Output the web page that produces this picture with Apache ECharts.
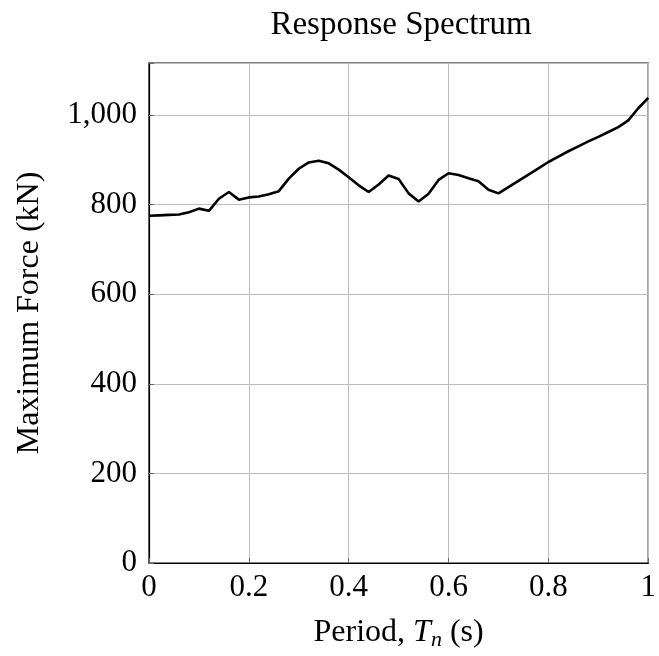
<!DOCTYPE html>
<html>
<head>
<meta charset="utf-8">
<script src="https://cdn.jsdelivr.net/npm/echarts@6/dist/echarts.min.js"></script>
<style>html,body{margin:0;padding:0;background:#fff}#c{width:659px;height:656px}</style>
</head>
<body>
<div id="c"></div>
<script>
const periods = [0,0.02,0.04,0.06,0.08,0.10,0.12,0.14,0.16,0.18,0.20,0.22,0.24,0.26,0.28,0.30,0.32,0.34,0.36,0.38,0.40,0.42,0.44,0.46,0.48,0.50,0.52,0.54,0.56,0.58,0.60,0.62,0.64,0.66,0.68,0.70,0.72,0.74,0.76,0.78,0.80,0.82,0.84,0.86,0.88,0.90,0.92,0.94,0.96,0.98,1.00];
const forces = [775,776,777,778,783,791,786,813,828,811,816,818,823,830,858,880,894,898,892,878,861,843,828,845,865,857,825,807,824,855,870,866,859,852,833,825,839,853,867,881,895,907,919,930,941,951,962,973,988,1015,1038];
const xTicks = [0,0.2,0.4,0.6,0.8,1];
const yTicks = [0,200,400,600,800,1000];

const FONT = 'Liberation Serif';
const FS = 31;
const FN = 32;
const chart = echarts.init(document.getElementById('c'), null, {renderer:'canvas'});
const data = periods.map((p,i)=>[p,forces[i]]);
chart.setOption({
  animation:false,
  title:{text:'Response Spectrum', left:396, top:4, textAlign:'center',
    textStyle:{fontFamily:FONT,fontSize:FN+1,fontWeight:'normal',color:'#000'}},
  grid:{left:149,right:7,top:63,bottom:89,show:true,borderColor:'#000',borderWidth:1.2,backgroundColor:'transparent'},
  xAxis:{type:'value',min:0,max:1,interval:0.2,
    name:'{r|Period, }{i|T}{s|n}{r| (s)}',nameLocation:'middle',nameGap:51,
    nameTextStyle:{rich:{r:{fontFamily:FONT,fontSize:FN,color:'#000'},i:{fontFamily:FONT,fontSize:FN,fontStyle:'italic',color:'#000'},s:{fontFamily:FONT,fontSize:22,fontStyle:'italic',color:'#000',padding:[15,0,0,0]}}},
    axisLine:{show:true,onZero:false,lineStyle:{color:'#000',width:1.2}},
    axisTick:{show:true,inside:true,length:5,lineStyle:{color:'#666'}},
    axisLabel:{fontFamily:FONT,fontSize:FS,color:'#000',margin:9,
      formatter:v=>xTicks.some(t=>Math.abs(t-v)<1e-9)?String(+v.toFixed(1)):''},
    splitLine:{show:true,lineStyle:{color:'#bdbdbd',width:1}}},
  yAxis:{type:'value',min:0,max:1116,interval:200,
    name:'Maximum Force (kN)',nameLocation:'middle',nameGap:103,
    nameTextStyle:{fontFamily:FONT,fontSize:FN,color:'#000'},
    axisLine:{show:true,lineStyle:{color:'#000',width:1.2}},
    axisTick:{show:true,inside:true,length:5,lineStyle:{color:'#666'}},
    axisLabel:{fontFamily:FONT,fontSize:FS,color:'#000',margin:12,
      formatter:v=>yTicks.indexOf(Math.round(v))>=0&&Math.abs(v-Math.round(v))<1e-6?Math.round(v).toLocaleString('en-US'):''},
    splitLine:{show:true,lineStyle:{color:'#bdbdbd',width:1}}},
  series:[{type:'line',data:data,showSymbol:false,symbol:'none',lineStyle:{color:'#000',width:2.6},z:5}]
});
</script>
</body>
</html>
